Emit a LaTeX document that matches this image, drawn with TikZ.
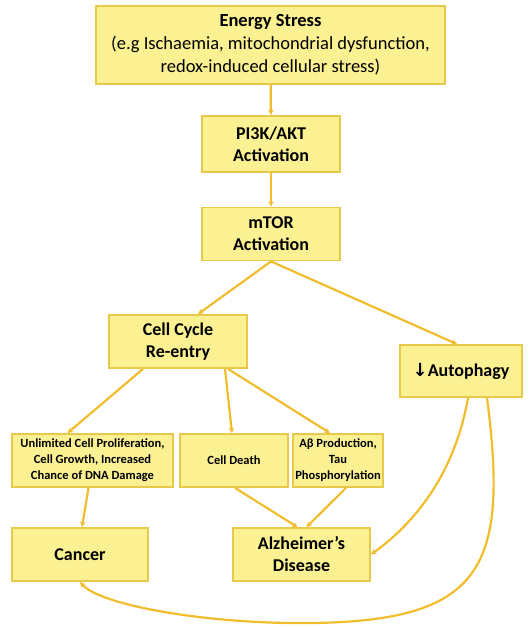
\documentclass[tikz,border=0pt]{standalone}
\usepackage{fontspec}
\setmainfont{Carlito}
\newfontfamily\symfont{DejaVu Sans}
\usetikzlibrary{arrows.meta}
\definecolor{boxfill}{RGB}{251,241,146}
\definecolor{boxline}{RGB}{233,201,75}
\definecolor{flow}{RGB}{241,189,44}
\tikzset{
  stage/.style={draw=boxline, fill=boxfill, line width=1.8pt, align=center,
    inner sep=2pt, font=\fontsize{18}{22}\selectfont\bfseries},
  outcome/.style={stage, font=\fontsize{12.5}{16}\selectfont\bfseries},
  link/.style={draw=flow, line width=2.2pt, -{Stealth[length=5.5pt,width=5.5pt]}}
}
\begin{document}
\begin{tikzpicture}[x=1pt,y=-1pt]
\useasboundingbox (0,0) rectangle (528,627);

\node[stage, minimum width=349pt, minimum height=78pt,
      font=\fontsize{18.5}{23}\selectfont\bfseries] (stress) at (270.5,45)
  {Energy Stress\\\mdseries (e.g Ischaemia, mitochondrial dysfunction,\\\mdseries redox-induced cellular stress)};
\node[stage, minimum width=138pt, minimum height=56pt] (pik) at (271,144) {PI3K/AKT\\Activation};
\node[stage, minimum width=138pt, minimum height=53pt] (mtor) at (271,234) {mTOR\\Activation};
\node[stage, minimum width=138pt, minimum height=53pt] (cyc) at (178,341.5) {Cell Cycle\\Re-entry};
\node[stage, minimum width=122pt, minimum height=52pt] (auto) at (461,371) {{\symfont\bfseries ↓}Autophagy};

\node[outcome, minimum width=161pt, minimum height=53pt] (unl) at (92.5,460.5)
  {Unlimited Cell Proliferation,\\Cell Growth, Increased\\Chance of DNA Damage};
\node[outcome, minimum width=108pt, minimum height=53pt] (death) at (234,460.5) {Cell Death};
\node[outcome, minimum width=90pt, minimum height=53pt] (abeta) at (338,460.5)
  {Aβ Production,\\Tau\\Phosphorylation};

\node[stage, minimum width=136pt, minimum height=53pt] (cancer) at (80,554.5) {Cancer};
\node[stage, minimum width=137pt, minimum height=53pt] (alz) at (301.5,554.5) {Alzheimer’s\\Disease};

\coordinate (low) at (290,623);

\draw[link] (stress) -- (pik);
\draw[link] (pik) -- (mtor);
\draw[link] (mtor.south) -- ([xshift=20pt]cyc.north);
\draw[link] (mtor.south) -- ([xshift=-4pt]auto.north);
\draw[link] ([xshift=-35pt]cyc.south) -- ([xshift=-25pt]unl.north);
\draw[link] ([xshift=47pt]cyc.south) -- ([xshift=-2pt]death.north);
\draw[link] ([xshift=50pt]cyc.south) -- ([xshift=-8pt]abeta.north);
\draw[link] ([xshift=-4pt]unl.south) -- ([xshift=2pt]cancer.north);
\draw[link] ([xshift=1pt]death.south) -- ([xshift=-4pt]alz.north);
\draw[link] ([xshift=8pt]abeta.south) -- ([xshift=5pt]alz.north);
\draw[link] ([xshift=7pt]auto.south) .. controls +(-15,85) and +(35,-25) .. (alz.east);
\draw[link] ([xshift=26pt]auto.south) .. controls (510,575) and (480,625) .. (low)
  .. controls (200,622) and (100,605) .. (cancer.south);
\end{tikzpicture}
\end{document}
